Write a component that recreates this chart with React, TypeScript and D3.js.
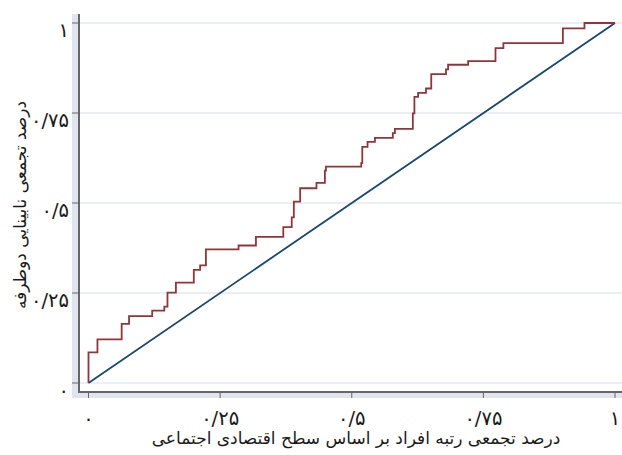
import React from 'react';
import * as d3 from 'd3';

const tickValues = [0, 0.25, 0.5, 0.75, 1];
const tickLabels = ['۰', '۰/۲۵', '۰/۵', '۰/۷۵', '۱'];

// cumulative rank (x) where the concentration curve steps up to cumulative share (y)
const curveX = [0, 0.0, 0.017, 0.063, 0.077, 0.121, 0.144, 0.150, 0.166, 0.200, 0.212, 0.223,
  0.285, 0.318, 0.370, 0.386, 0.390, 0.402, 0.433, 0.449, 0.451, 0.518, 0.520, 0.530, 0.544,
  0.578, 0.582, 0.616, 0.619, 0.626, 0.641, 0.651, 0.679, 0.683, 0.721, 0.773, 0.788, 0.901,
  0.942, 1];
const curveY = [0, 0.085, 0.121, 0.164, 0.186, 0.201, 0.212, 0.251, 0.279, 0.314, 0.327, 0.371,
  0.382, 0.406, 0.433, 0.460, 0.504, 0.541, 0.556, 0.590, 0.601, 0.611, 0.656, 0.670, 0.681,
  0.694, 0.706, 0.749, 0.795, 0.806, 0.818, 0.858, 0.871, 0.884, 0.894, 0.930, 0.944, 0.985,
  1, 1];
const equalityX = [0, 1];
const equalityY = [0, 1];

const xTitle = 'درصد تجمعی رتبه افراد بر اساس سطح اقتصادی اجتماعی';
const yTitle = 'درصد تجمعی نابینایی دوطرفه';

const W = 622;
const H = 455;
const FONT = '"DejaVu Sans", sans-serif';

export default function App() {
  const x = d3.scaleLinear().domain([0, 1]).range([88.5, 615]);
  const y = d3.scaleLinear().domain([0, 1]).range([383, 23]);

  const curvePts: [number, number][] = curveX.map((v, i) => [v, curveY[i]]);
  const eqPts: [number, number][] = equalityX.map((v, i) => [v, equalityY[i]]);

  const stepLine = d3
    .line<[number, number]>()
    .x((d) => x(d[0]))
    .y((d) => y(d[1]))
    .curve(d3.curveStepAfter);
  const straight = d3
    .line<[number, number]>()
    .x((d) => x(d[0]))
    .y((d) => y(d[1]));

  const axisX = 79;
  const axisY = 392;
  const bandColor = '#dfe4ee';
  const gridColor = '#e4e8f0';
  const axisColor = '#666666';
  const textColor = '#1a1a1a';

  return (
    <svg
      width={W}
      height={H}
      style={{ position: 'absolute', left: 0, top: 0, background: '#ffffff' }}
      fontFamily={FONT}
    >
      <rect x={0} y={0} width={W} height={H} fill="#ffffff" />
      {/* axis bands */}
      <rect x={72} y={14} width={axisX - 72} height={398 - 14} fill={bandColor} />
      <rect x={72} y={axisY} width={W - 72} height={398 - axisY} fill={bandColor} />

      {/* gridlines */}
      {tickValues.map((t) => (
        <line key={'g' + t} x1={axisX + 1} x2={W} y1={y(t)} y2={y(t)} stroke={gridColor} strokeWidth={1.5} />
      ))}

      {/* axes */}
      <line x1={axisX} x2={axisX} y1={14} y2={axisY + 1} stroke={axisColor} strokeWidth={2} />
      <line x1={axisX - 1} x2={W} y1={axisY} y2={axisY} stroke={axisColor} strokeWidth={2} />

      {/* y ticks & labels */}
      {tickValues.map((t, i) => (
        <g key={'y' + t}>
          <line x1={72} x2={axisX} y1={y(t)} y2={y(t)} stroke={axisColor} strokeWidth={1} />
          <text x={69} y={y(t) + 14} textAnchor="end" fontSize={19.5} fill={textColor}>
            {tickLabels[i]}
          </text>
        </g>
      ))}

      {/* x ticks & labels */}
      {tickValues.map((t, i) => (
        <g key={'x' + t}>
          <line x1={x(t)} x2={x(t)} y1={axisY} y2={398} stroke={axisColor} strokeWidth={1} />
          <text x={x(t)} y={425} textAnchor="middle" fontSize={19.5} fill={textColor}>
            {tickLabels[i]}
          </text>
        </g>
      ))}

      {/* equality line */}
      <path d={straight(eqPts) || ''} fill="none" stroke="#1a476f" strokeWidth={1.8} />
      {/* concentration curve */}
      <path d={stepLine(curvePts) || ''} fill="none" stroke="#90353b" strokeWidth={1.8} />

      {/* titles */}
      <text x={356} y={444} textAnchor="middle" fontSize={17} fill={textColor} direction="rtl">
        {xTitle}
      </text>
      <text
        transform={`translate(26,205) rotate(-90)`}
        textAnchor="middle"
        fontSize={17}
        fill={textColor}
        direction="rtl"
      >
        {yTitle}
      </text>
    </svg>
  );
}
